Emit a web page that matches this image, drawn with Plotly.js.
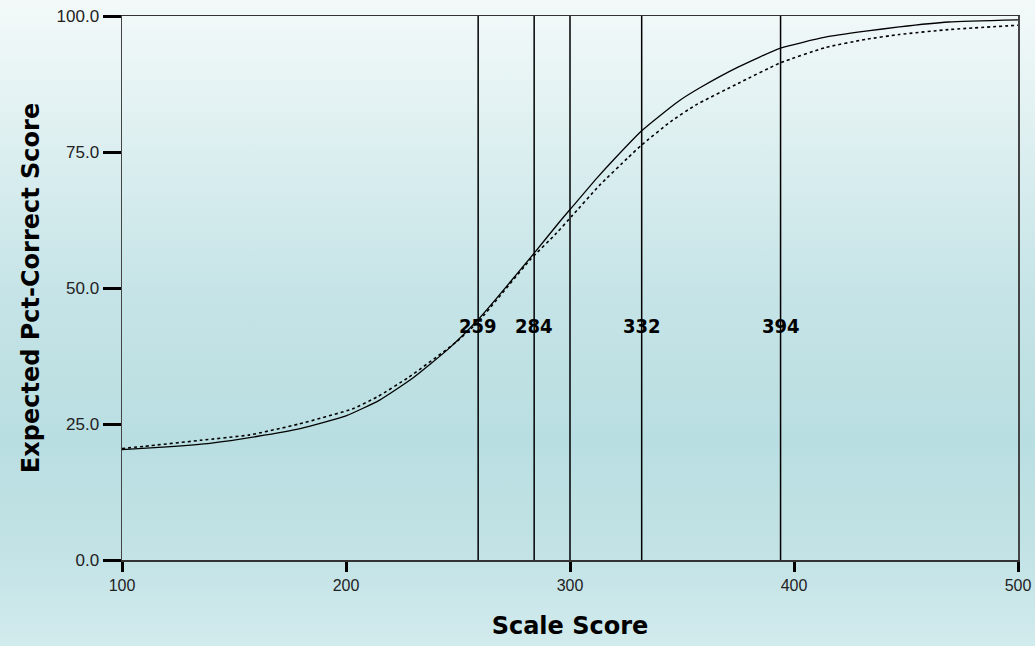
<!DOCTYPE html>
<html>
<head>
<meta charset="utf-8">
<script src="https://cdn.plot.ly/plotly-3.0.1.min.js"></script>
<style>
html,body{margin:0;padding:0;width:1035px;height:646px;overflow:hidden;
background:linear-gradient(to bottom,#f3f9f9 0px,#dff0f1 130px,#c6e4e7 290px,#b9dee1 440px,#c3e3e6 560px,#d2ebed 646px);}
#chart{width:1035px;height:646px;}
</style>
</head>
<body>
<div id="chart"></div>
<script>
// Expected percent-correct curve (solid)
const solidX = [100,120,140,160,180,200,215,230,246,259,267,284,295,301,312,320,332,348,358,375,394,414,432,447,469,500];
const solidY = [20.3,20.8,21.5,22.7,24.2,26.5,29.4,33.5,38.9,44.2,48.0,56.4,62.0,64.9,70.2,73.8,78.9,84.2,86.8,90.6,94.1,96.1,97.2,98.0,98.9,99.3];
// Second curve (dotted)
const dotX = [100,110,135,157,179,203,214,228,249,259,282,294,301,313,326,332,345,356,375,394,414,432,447,469,500];
const dotY = [20.5,20.9,22.0,23.0,25.0,27.8,30.0,33.6,40.0,43.8,55.1,60.1,63.3,68.8,74.0,76.3,80.6,83.6,87.6,91.4,94.2,95.7,96.6,97.5,98.3];
// Vertical reference lines and their labels
const cutLines = [259,284,300,332,394];
const cutLabels = ["259","284","","332","394"];
const labelLevel = 43;
const xTicks = [100,200,300,400,500];
const yTicks = [0,25,50,75,100];

const traces = [
  {x: solidX, y: solidY, mode:'lines', line:{color:'#000', width:1.3, shape:'spline', smoothing:0.5}, hoverinfo:'skip', showlegend:false},
  {x: dotX, y: dotY, mode:'lines', line:{color:'#000', width:1.6, dash:'dot', shape:'spline', smoothing:0.5}, hoverinfo:'skip', showlegend:false}
];

const shapes = cutLines.map(v => ({type:'line', xref:'x', yref:'y', x0:v, x1:v, y0:0, y1:100, line:{color:'#000', width:1.5}}));
const annotations = cutLines.map((v,i) => ({x:v, y:labelLevel, xref:'x', yref:'y', text:cutLabels[i], showarrow:false,
  font:{family:'DejaVu Sans Condensed, Liberation Sans Narrow, sans-serif', size:20, color:'#000', weight:'bold'}})).filter(a => a.text !== "");

const layout = {
  width:1035, height:646,
  margin:{l:122, r:17, t:16, b:86},
  paper_bgcolor:'rgba(0,0,0,0)', plot_bgcolor:'rgba(0,0,0,0)',
  xaxis:{range:[100,500], tickvals:xTicks, ticktext:xTicks.map(String), ticks:'outside', ticklen:10, tickwidth:3, tickcolor:'#000',
    showgrid:false, zeroline:false, showline:true, linecolor:'#333', linewidth:1.5, mirror:true,
    tickfont:{family:'Liberation Sans, Arial, sans-serif', size:16, color:'#222'},
    title:{text:'Scale Score', standoff:24, font:{family:'DejaVu Sans, sans-serif', size:24, color:'#000', weight:'bold'}}},
  yaxis:{range:[0,100], tickvals:yTicks, ticktext:yTicks.map(v=>v.toFixed(1)), ticks:'outside', ticklen:18, tickwidth:3, tickcolor:'#000',
    showgrid:false, zeroline:false, showline:true, linecolor:'#444', linewidth:1.5, mirror:true,
    tickfont:{family:'Liberation Sans, Arial, sans-serif', size:17, color:'#222'},
    title:{text:'Expected Pct-Correct Score', standoff:10, font:{family:'DejaVu Sans, sans-serif', size:24, color:'#000', weight:'bold'}}},
  shapes: shapes,
  annotations: annotations,
  showlegend:false
};

Plotly.newPlot('chart', traces, layout, {displayModeBar:false, staticPlot:true});
</script>
</body>
</html>
